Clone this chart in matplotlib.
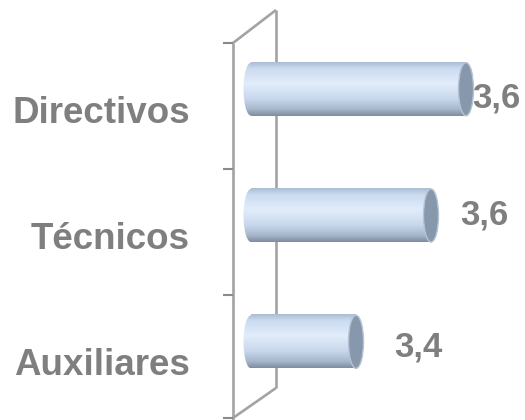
import matplotlib
matplotlib.use('Agg')
import numpy as np
import matplotlib.pyplot as plt
from matplotlib.patches import Ellipse
from matplotlib.lines import Line2D
from matplotlib.colors import LinearSegmentedColormap
import matplotlib.transforms as mtransforms

# data
categories = ['Directivos', 'Técnicos', 'Auxiliares']
values = [3.63, 3.56, 3.41]
value_labels = [f"{v:.1f}".replace('.', ',') for v in values]

# style
axis_min = 3.2
label_offsets_px = [(6, 9), (29, -1), (38, 5)]  # (right, down) from bar end
gray = '#7f7f7f'
wall_color = '#a3a3a3'
bar_h = 0.42
scale = 500.0  # px per unit

plt.rcParams['font.family'] = ['Liberation Sans', 'DejaVu Sans']

fig = plt.figure(figsize=(5.25, 4.2), dpi=100)
W, H = 525.0, 420.0

# 3d wall drawn behind the bars (figure pixel coords, y from top)
def fpx(x, y):
    return x / W, 1 - y / H

wall = [((233, 43), (233, 420)), ((276, 10), (276, 388)),
        ((233, 43), (276, 10)), ((233, 418), (276, 388))]
for (x0, y0), (x1, y1) in wall:
    a, b = fpx(x0, y0), fpx(x1, y1)
    fig.add_artist(Line2D([a[0], b[0]], [a[1], b[1]], color=wall_color,
                          lw=1.9, zorder=-1, solid_capstyle='butt'))
for ty in [43, 169, 295, 418]:
    a, b = fpx(223, ty), fpx(233, ty)
    fig.add_artist(Line2D([a[0], b[0]], [a[1], b[1]], color='#8a8a8a',
                          lw=1.5, zorder=-1, solid_capstyle='butt'))

ax = fig.add_axes([241 / W, 15 / H, 284 / W, 379 / H])
ax.patch.set_visible(False)
ax.set_zorder(1)

cmap = LinearSegmentedColormap.from_list('cyl', [
    (0.0, '#adbdd3'), (0.12, '#cbdbf0'), (0.4, '#e2edfb'),
    (0.7, '#c6d6ea'), (0.88, '#a6b6cb'), (1.0, '#7f8d9f')])
grad = np.linspace(0, 1, 100).reshape(-1, 1)

xmin = axis_min - 10 / scale
xmax = xmin + 284 / scale
ew = 15 / scale  # ellipse width in data units

ypos = np.arange(len(categories))[::-1]
for y, v in zip(ypos, values):
    ax.imshow(grad, cmap=cmap, aspect='auto',
              extent=[axis_min, v, y - bar_h / 2, y + bar_h / 2], zorder=2)
    left = Ellipse((axis_min, y), ew, bar_h, facecolor='none', edgecolor='none')
    ax.add_patch(left)
    im = ax.imshow(grad, cmap=cmap, aspect='auto',
                   extent=[axis_min - ew / 2, axis_min + ew / 2,
                           y - bar_h / 2, y + bar_h / 2], zorder=2)
    im.set_clip_path(left)
    cap = Ellipse((v, y), ew, bar_h, facecolor='#8797ac',
                  edgecolor='#b4c3d6', lw=1.0, zorder=3)
    ax.add_patch(cap)

for y, v, lab, (dx, dy) in zip(ypos, values, value_labels, label_offsets_px):
    ax.annotate(lab, (v, y), xytext=(dx * 0.72, -dy * 0.72),
                textcoords='offset points', ha='left', va='center',
                fontsize=25, fontweight='bold', color=gray)

ax.set_xlim(xmin, xmax)
ax.set_ylim(-0.5, 2.5)
ax.set_yticks(ypos)
ax.set_yticklabels(categories, fontsize=26.5, fontweight='bold', color=gray)
ax.tick_params(axis='y', length=0, pad=51 * 0.72)
shift = mtransforms.ScaledTranslation(0, -20 / 100.0, fig.dpi_scale_trans)
for t in ax.get_yticklabels():
    t.set_transform(t.get_transform() + shift)
ax.set_xticks([])
for s in ax.spines.values():
    s.set_visible(False)

fig.savefig('out.png', dpi=100)
